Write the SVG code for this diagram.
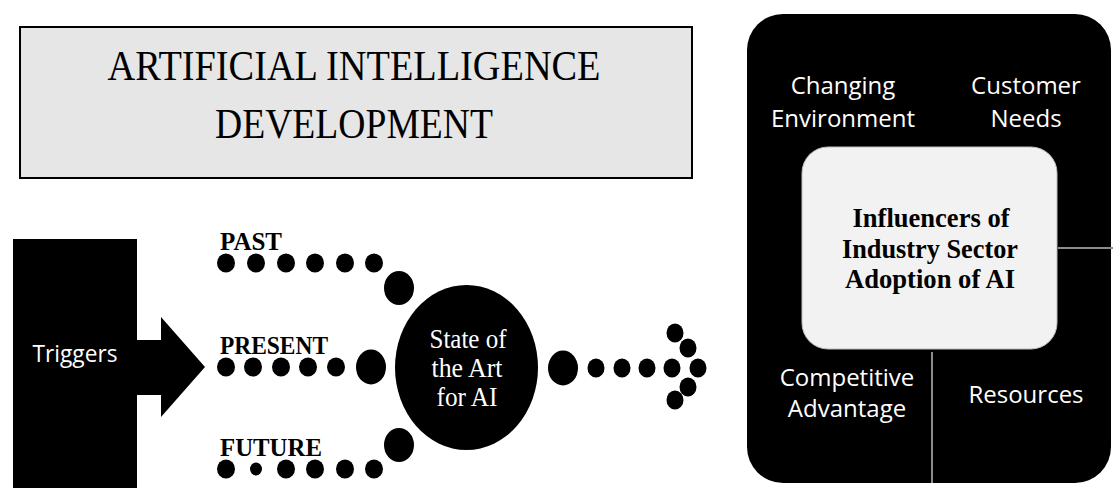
<svg xmlns="http://www.w3.org/2000/svg" width="1113" height="488" viewBox="0 0 1113 488">
<style>
.serif{font-family:"Liberation Serif","Times New Roman",serif}
.sans{font-family:"Open Sans","Liberation Sans",sans-serif}
.wt{fill:#fff}
.bk{fill:#000}
.div{stroke:#8c8c8c;stroke-width:2;fill:none}
</style>
<rect width="1113" height="488" fill="#fff"/>
<g id="title">
<rect x="20" y="27" width="672" height="151" fill="#e6e6e6" stroke="#000" stroke-width="2"/>
<text class="serif" x="354" y="80" font-size="42" text-anchor="middle" textLength="493" lengthAdjust="spacingAndGlyphs">ARTIFICIAL INTELLIGENCE</text>
<text class="serif" x="354" y="138" font-size="42" text-anchor="middle" textLength="278" lengthAdjust="spacingAndGlyphs">DEVELOPMENT</text>
</g>
<g id="triggers">
<rect x="13" y="239" width="124" height="249" class="bk"/>
<polygon points="136,340 161,340 161,317 205,367 161,417 161,395 136,395" class="bk"/>
<text class="sans wt" x="75" y="362" font-size="24" text-anchor="middle" textLength="85" lengthAdjust="spacingAndGlyphs">Triggers</text>
</g>
<g id="timeline-labels" class="serif" font-weight="bold" font-size="26">
<text x="220" y="250" textLength="62" lengthAdjust="spacingAndGlyphs">PAST</text>
<text x="220" y="354" textLength="108" lengthAdjust="spacingAndGlyphs">PRESENT</text>
<text x="220" y="456" textLength="102" lengthAdjust="spacingAndGlyphs">FUTURE</text>
</g>
<g id="connectors" class="bk">
<ellipse cx="226" cy="263" rx="9" ry="9.5"/>
<ellipse cx="256" cy="263" rx="9" ry="9.5"/>
<ellipse cx="286" cy="263" rx="9" ry="9.5"/>
<ellipse cx="315" cy="263" rx="9" ry="9.5"/>
<ellipse cx="345" cy="263" rx="9" ry="9.5"/>
<ellipse cx="374" cy="263" rx="9" ry="9.5"/>
<ellipse cx="399" cy="288" rx="15" ry="17"/>
<ellipse cx="226" cy="367" rx="9" ry="9.5"/>
<ellipse cx="253" cy="367" rx="9" ry="9.5"/>
<ellipse cx="281" cy="367" rx="9" ry="9.5"/>
<ellipse cx="308" cy="367" rx="9" ry="9.5"/>
<ellipse cx="336" cy="367" rx="9" ry="9.5"/>
<ellipse cx="371" cy="367" rx="15" ry="17.5"/>
<ellipse cx="226" cy="469" rx="9" ry="9.5"/>
<ellipse cx="256" cy="469" rx="6" ry="6.5"/>
<ellipse cx="286" cy="469" rx="9" ry="9.5"/>
<ellipse cx="315" cy="469" rx="9" ry="9.5"/>
<ellipse cx="345" cy="469" rx="9" ry="9.5"/>
<ellipse cx="374" cy="469" rx="9" ry="9.5"/>
<ellipse cx="399" cy="445" rx="15" ry="17"/>
<ellipse cx="563" cy="368" rx="15" ry="17.5"/>
<ellipse cx="596" cy="368" rx="8.5" ry="9.5"/>
<ellipse cx="622" cy="368" rx="8.5" ry="9.5"/>
<ellipse cx="647" cy="368" rx="8.5" ry="9.5"/>
<ellipse cx="672" cy="368" rx="8.5" ry="9.5"/>
<ellipse cx="675" cy="333" rx="8.5" ry="9.5"/>
<ellipse cx="688" cy="348" rx="8.5" ry="9.5"/>
<ellipse cx="698" cy="368" rx="8.5" ry="9.5"/>
<ellipse cx="688" cy="387" rx="8.5" ry="9.5"/>
<ellipse cx="675" cy="400" rx="8.5" ry="9.5"/>
</g>
<g id="state-of-art">
<ellipse cx="466.5" cy="367.5" rx="71.5" ry="82.5" class="bk"/>
<g class="serif wt" font-size="28" text-anchor="middle">
<text x="468" y="348" textLength="77" lengthAdjust="spacingAndGlyphs">State of</text>
<text x="467" y="377" textLength="71" lengthAdjust="spacingAndGlyphs">the Art</text>
<text x="467" y="406" textLength="61" lengthAdjust="spacingAndGlyphs">for AI</text>
</g>
</g>
<g id="influencers-panel">
<rect x="747" y="14" width="364" height="469" rx="36" ry="36" class="bk"/>
<line x1="932" y1="352" x2="932" y2="483" class="div"/>
<line x1="1058" y1="248" x2="1113" y2="248" class="div"/>
</g>
<g id="changing-environment" class="sans wt" font-size="24" text-anchor="middle">
<text x="843" y="94">Changing</text>
<text x="843" y="127">Environment</text>
</g>
<g id="customer-needs" class="sans wt" font-size="24" text-anchor="middle">
<text x="1026" y="94">Customer</text>
<text x="1026" y="127">Needs</text>
</g>
<g id="competitive-advantage" class="sans wt" font-size="24" text-anchor="middle">
<text x="847" y="386">Competitive</text>
<text x="847" y="417">Advantage</text>
</g>
<g id="resources" class="sans wt" font-size="24" text-anchor="middle">
<text x="1026" y="403">Resources</text>
</g>
<g id="influencers-center">
<rect x="802" y="147" width="255" height="202" rx="26" ry="26" fill="#f2f2f2" stroke="#bdbdbd" stroke-width="1"/>
<g class="serif" font-weight="bold" font-size="27" text-anchor="middle">
<text x="931" y="227" textLength="157" lengthAdjust="spacingAndGlyphs">Influencers of</text>
<text x="930" y="258" textLength="176" lengthAdjust="spacingAndGlyphs">Industry Sector</text>
<text x="930" y="288" textLength="170" lengthAdjust="spacingAndGlyphs">Adoption of AI</text>
</g>
</g>
</svg>
